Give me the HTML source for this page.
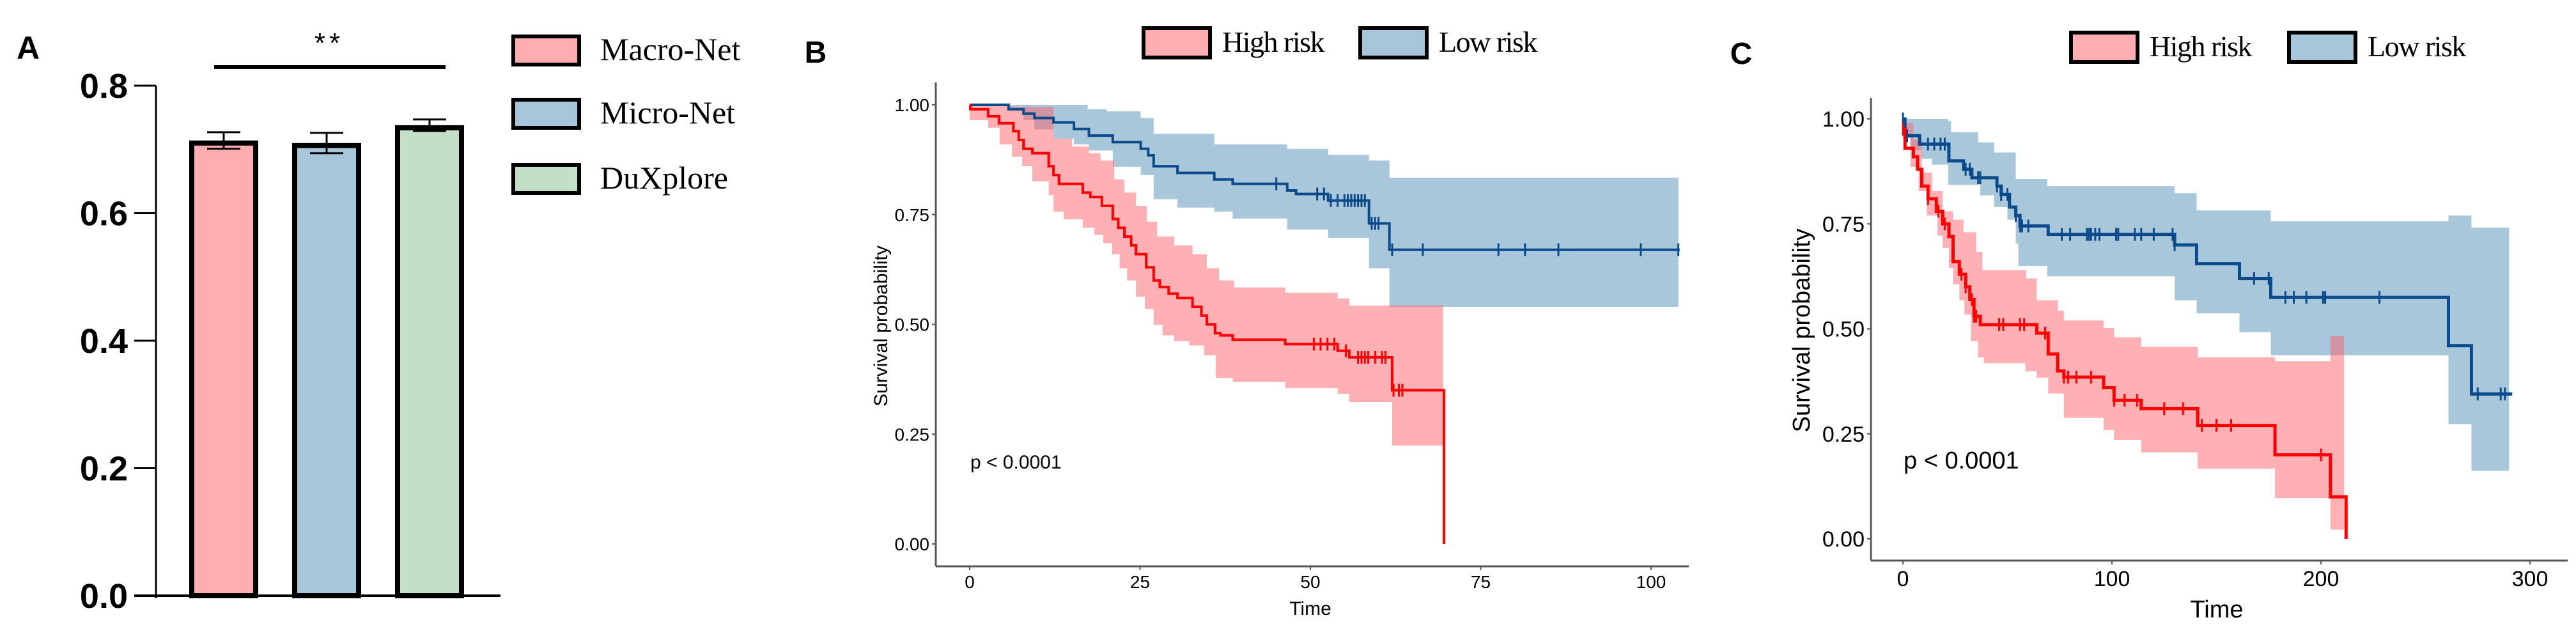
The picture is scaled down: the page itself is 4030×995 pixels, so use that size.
<!DOCTYPE html>
<html><head><meta charset="utf-8">
<style>
html,body{margin:0;padding:0;background:#fff;}
svg{display:block;}
.sans{font-family:"Liberation Sans",Arial,sans-serif;}
.nar{font-family:"Liberation Sans Narrow","Liberation Sans",sans-serif;}
.ser{font-family:"Liberation Serif","DejaVu Serif",serif;}
</style></head>
<body>
<svg id="fig" width="4030" height="995" viewBox="0 0 4030 995" xmlns="http://www.w3.org/2000/svg">
</svg>
<script>
// ---------- Panel A data ----------
const barCategories = ["Macro-Net","Micro-Net","DuXplore"];
const barValues = [0.714, 0.710, 0.738];
const barErrors = [0.013, 0.016, 0.009];
const barTicks = ["0.0","0.2","0.4","0.6","0.8"];
const barTickValues = [0,0.2,0.4,0.6,0.8];

// ---------- Panel B data ----------
const bHighSteps = [[0,1.0],[0.1,0.99],[2.7,0.974],[4.3,0.958],[6.4,0.94],[7.2,0.92],[7.9,0.90],[9.2,0.89],[11.6,0.86],[12.3,0.84],[13.1,0.82],[16.6,0.80],[17.7,0.79],[19.4,0.77],[21,0.74],[21.8,0.72],[22.7,0.70],[23.7,0.68],[24.4,0.66],[25.9,0.63],[27,0.60],[27.9,0.585],[29.2,0.57],[30.5,0.56],[32.7,0.54],[34,0.52],[34.8,0.50],[36,0.48],[36.8,0.475],[38.6,0.465],[46.3,0.455],[54,0.44],[55.7,0.425],[62,0.35],[69.6,0.0]];
const bHighEnd = 69.6;
const bHighUpper = [[0,1.0],[6,0.995],[12.3,0.923],[15,0.905],[17.5,0.89],[19.2,0.873],[21.2,0.83],[22.7,0.80],[24.4,0.77],[26,0.734],[27.5,0.70],[30,0.68],[32.7,0.66],[34.8,0.628],[36.6,0.60],[38.8,0.584],[46.3,0.572],[54,0.559],[55.7,0.543]];
const bHighLower = [[0,0.965],[2.7,0.948],[4.4,0.91],[6.2,0.882],[7.7,0.86],[9.2,0.826],[11.6,0.794],[12.3,0.757],[13.8,0.739],[16.6,0.72],[18.3,0.704],[19.6,0.685],[20.9,0.66],[22,0.628],[23.1,0.60],[24.4,0.563],[25.7,0.535],[27,0.499],[28.3,0.475],[30,0.462],[32.2,0.452],[34.4,0.43],[36.1,0.378],[38.6,0.369],[46.3,0.355],[54,0.342],[55.7,0.323],[62,0.224]];
const bHighBandEnd = 69.5;
const bHighCensor = [50.5,51.5,52.5,53.5,55.2,57,57.5,58,58.5,59.5,60.5,61,62.2,63,63.5];
const bLowSteps = [[0,1.0],[5.7,0.99],[7.9,0.98],[9.5,0.97],[12.3,0.96],[15.3,0.945],[17.5,0.93],[21,0.915],[25.1,0.90],[26.2,0.885],[27,0.86],[30.5,0.845],[35.9,0.83],[38.6,0.82],[46.6,0.805],[47.9,0.797],[52.6,0.782],[58.6,0.73],[61.6,0.67]];
const bLowEnd = 104.2;
const bLowUpper = [[0,1.0],[17.3,0.99],[20.1,0.985],[25.1,0.97],[27,0.934],[35.9,0.91],[46.6,0.90],[52.6,0.886],[58.6,0.873],[61.6,0.834]];
const bLowLower = [[0,1.0],[5.7,0.99],[7.9,0.965],[9.5,0.944],[12.3,0.923],[15.3,0.91],[17.5,0.896],[21,0.859],[25.1,0.84],[27,0.785],[30.5,0.766],[35.9,0.757],[38.6,0.741],[46.6,0.716],[52.6,0.697],[58.6,0.628],[61.6,0.54]];
const bLowBandEnd = 104;
const bLowCensor = [45,51,52,53,54,55,55.5,56,56.5,57,57.5,58,59,59.5,60,62,66.5,77.6,81.5,86.4,98.5,104];
const bXTicks = [0,25,50,75,100];
const bYTicks = [0,0.25,0.5,0.75,1.0];
const bYLabels = ["0.00","0.25","0.50","0.75","1.00"];

// ---------- Panel C data ----------
const cHighSteps = [[0,0.975],[1,0.93],[5,0.91],[7,0.88],[9,0.84],[12,0.81],[16,0.78],[19,0.75],[22,0.72],[24,0.66],[27,0.63],[30,0.60],[32,0.57],[34,0.53],[37,0.51],[64,0.49],[69.5,0.44],[74,0.40],[77,0.385],[96,0.36],[101,0.33],[114,0.31],[141,0.27],[178,0.20],[204.5,0.10],[212,0.0]];
const cHighEnd = 212;
const cHighUpper = [[0,0.99],[5,0.95],[9,0.872],[14,0.828],[19,0.78],[24,0.76],[29,0.73],[35,0.683],[38,0.64],[59,0.62],[64,0.568],[74,0.543],[77,0.52],[96,0.502],[101,0.48],[114,0.457],[141,0.432],[178,0.423],[204.5,0.483]];
const cHighLower = [[0,0.954],[3.6,0.886],[7.5,0.828],[11.4,0.77],[16.5,0.722],[19,0.693],[22,0.645],[24,0.606],[27,0.568],[29.4,0.534],[32.5,0.471],[35.9,0.432],[38.7,0.418],[58.6,0.399],[64,0.384],[69.5,0.346],[77,0.288],[96,0.259],[101,0.236],[114,0.206],[141,0.167],[178,0.097],[204.5,0.022]];
const cHighBandEnd = 211;
const cHighCensor = [0,12,17,20,28,30,33,34,35,46,48,56,58,68,77,79,83,90,101,106,112,125,134,143,150,157,200];
const cLowSteps = [[0,1.0],[1,0.96],[8,0.94],[22,0.90],[29,0.88],[33,0.86],[45,0.84],[47,0.82],[51,0.79],[54,0.77],[56,0.745],[69.5,0.725],[130,0.70],[140.5,0.655],[161,0.62],[176,0.575],[261,0.46],[272,0.345]];
const cLowEnd = 291.5;
const cLowUpper = [[0,1.0],[21.7,0.995],[23,0.968],[36,0.944],[43.6,0.92],[54,0.857],[69,0.84],[130,0.823],[140.5,0.782],[176,0.756],[261,0.77],[272,0.741]];
const cLowLower = [[0,0.963],[3.6,0.925],[8.8,0.905],[13.9,0.891],[21.7,0.843],[37,0.818],[43.6,0.79],[50,0.76],[54,0.703],[55.2,0.65],[69,0.625],[130,0.568],[140.5,0.537],[161,0.492],[176,0.437],[261,0.273],[272,0.162]];
const cLowBandEnd = 290;
const cLowCensor = [0,2,12,15,18,20,30,32,36,37,45,47,50,54,56,57,60,76,80,88,89,90,92,94,102,103,111,114,120,129,130,168,175,183,187,193,201,202,228,275,286,288];
const cXTicks = [0,100,200,300];
const cYTicks = [0,0.25,0.5,0.75,1.0];
const cYLabels = ["0.00","0.25","0.50","0.75","1.00"];

const NS = "http://www.w3.org/2000/svg";
const fig = document.getElementById("fig");
function mk(tag, attrs, parent, text){
  const e = document.createElementNS(NS, tag);
  for (const k in attrs) e.setAttribute(k, attrs[k]);
  if (text !== undefined) e.textContent = text;
  (parent||fig).appendChild(e);
  return e;
}

// ================= Panel A =================
(function(){
  const g = mk("g", {});
  
  
  const y0 = 932, y1 = 134, v1 = 0.8;
  const ys = v => y0 - (v / v1) * (y0 - y1);
  const xAxisX = 244;
  const lbl = mk("text", {x:44, y:92, "font-size":50, "font-weight":"bold", "text-anchor":"middle", class:"sans"}, g, "A");
  
  
  const ya = mk("line", {x1:xAxisX, y1:ys(v1), x2:xAxisX, y2:y0+4, stroke:"#000", "stroke-width":3}, g);
  
  
  const xa = mk("line", {x1:210, y1:y0, x2:783, y2:y0, stroke:"#000", "stroke-width":4}, g);
  
  
  barTickValues.forEach((v,i)=>{
    const t = mk("line", {x1:210, y1:ys(v), x2:xAxisX, y2:ys(v), stroke:"#000", "stroke-width":3}, g);
    
    
    const tl = mk("text", {x:200, y:ys(v)+19, "font-size":54, "font-weight":"bold", "text-anchor":"end", class:"nar"}, g, barTicks[i]);
    
    
  });
  const fills = ["#ffadb1","#a8c6da","#c3dfc6"];
  const bw = 108, x0 = 296, step = 161;
  barCategories.forEach((c,i)=>{
    const x = x0 + i*step;
    const r = mk("rect", {x:x+4, y:ys(barValues[i])+4, width:bw-8, height:y0-ys(barValues[i])-4, fill:fills[i], stroke:"#000", "stroke-width":8}, g);
    
    
    const cx = x + bw/2;
    const e = barErrors[i];
    const eb = mk("path", {d:`M${cx-26},${ys(barValues[i]+e)} H${cx+26} M${cx},${ys(barValues[i]+e)} V${ys(barValues[i]-e)} M${cx-26},${ys(barValues[i]-e)} H${cx+26}`, stroke:"#000", "stroke-width":3, fill:"none"}, g);
    
    
  });
  const sig = mk("line", {x1:335, y1:105, x2:697, y2:105, stroke:"#000", "stroke-width":6}, g);
  
  
  const st = mk("text", {x:515, y:82, "font-size":44, "text-anchor":"middle", class:"sans", "letter-spacing":"6"}, g, "**");
  
  
  const ly = [54,153,255];
  barCategories.forEach((c,i)=>{
    const b = mk("rect", {x:803, y:ly[i]+3, width:103, height:44, fill:fills[i], stroke:"#000", "stroke-width":6}, g);
    
    
    const t = mk("text", {x:939, y:ly[i]+40, "font-size":50, class:"ser"}, g, c);
    
    
  });
})();

// ================= KM helper =================
function stepPath(steps, end, xs, ys){
  let d = `M${xs(steps[0][0])},${ys(steps[0][1])}`;
  for (let i=1;i<steps.length;i++){
    d += ` H${xs(steps[i][0])} V${ys(steps[i][1])}`;
  }
  d += ` H${xs(end)}`;
  return d;
}
function bandPath(up, lo, end, xs, ys){
  let d = `M${xs(up[0][0])},${ys(up[0][1])}`;
  for (let i=1;i<up.length;i++) d += ` H${xs(up[i][0])} V${ys(up[i][1])}`;
  d += ` H${xs(end)} V${ys(lo[lo.length-1][1])}`;
  for (let i=lo.length-1;i>=1;i--) d += ` H${xs(lo[i][0])} V${ys(lo[i-1][1])}`;
  d += ` H${xs(lo[0][0])} Z`;
  return d;
}
function sAt(steps, t){
  let s = steps[0][1];
  for (const p of steps) if (p[0] <= t) s = p[1];
  return s;
}
function kmPanel(o){
  const g = mk("g", {});
  
  
  const xs = t => o.x0px + t * o.pxPerUnit;
  const ys = s => o.y0px - s * (o.y0px - o.y1px);
  const L = mk("text", {x:o.labX, y:o.labY, "font-size":48, "font-weight":"bold", "text-anchor":"middle", class:"sans"}, g, o.label);
  
  
  // legend
  const lg = [["High risk","#ffadb1",o.leg[0]],["Low risk","#a8c6da",o.leg[1]]];
  lg.forEach(l=>{
    const r = mk("rect", {x:l[2]+3, y:o.legY+3, width:o.legW-6, height:o.legH-6, fill:l[1], stroke:"#000", "stroke-width":6}, g);
    
    
    const t = mk("text", {x:l[2]+o.legW+16, y:o.legY+o.legH-12, "font-size":o.legFont, class:"ser", "letter-spacing":"-1.5"}, g, l[0]);
    
    
  });
  // bands
  const lb = mk("path", {d:bandPath(o.lowUp, o.lowLo, o.lowBandEnd, xs, ys), fill:"#5b93b9", "fill-opacity":0.52}, g);
  
  
  const hb = mk("path", {d:bandPath(o.highUp, o.highLo, o.highBandEnd, xs, ys), fill:"#ff5a64", "fill-opacity":0.48}, g);
  
  
  // lines
  const ll = mk("path", {d:stepPath(o.lowSteps, o.lowEnd, xs, ys), fill:"none", stroke:"#0b4a8b", "stroke-width":o.lw}, g);
  
  
  const hl = mk("path", {d:stepPath(o.highSteps, o.highEnd, xs, ys), fill:"none", stroke:"#ff0000", "stroke-width":o.lw}, g);
  
  
  // censor marks
  o.lowCensor.forEach(t=>{
    const s = sAt(o.lowSteps, t);
    const c = mk("line", {x1:xs(t), x2:xs(t), y1:ys(s)-10, y2:ys(s)+10, stroke:"#0b4a8b", "stroke-width":3}, g);
    
    
  });
  o.highCensor.forEach(t=>{
    const s = sAt(o.highSteps, t);
    const c = mk("line", {x1:xs(t), x2:xs(t), y1:ys(s)-10, y2:ys(s)+10, stroke:"#ff0000", "stroke-width":3}, g);
    
    
  });
  // axes
  const ya = mk("line", {x1:o.axX, y1:o.axTop, x2:o.axX, y2:o.axY, stroke:"#555", "stroke-width":3}, g);
  
  
  const xa = mk("line", {x1:o.axX, y1:o.axY, x2:o.axRight, y2:o.axY, stroke:"#555", "stroke-width":3}, g);
  
  
  o.xTicks.forEach(v=>{
    const t = mk("line", {x1:xs(v), x2:xs(v), y1:o.axY, y2:o.axY+6, stroke:"#555", "stroke-width":2}, g);
    
    
    const tl = mk("text", {x:xs(v), y:o.axY+o.tickFont+6, "font-size":o.tickFont, "text-anchor":"middle", class:"nar"}, g, String(v));
    
    
  });
  o.yTicks.forEach((v,i)=>{
    const t = mk("line", {x1:o.axX-6, x2:o.axX, y1:ys(v), y2:ys(v), stroke:"#555", "stroke-width":2}, g);
    
    
    const tl = mk("text", {x:o.axX-10, y:ys(v)+o.tickFont*0.36, "font-size":o.tickFont, "text-anchor":"end", class:"nar"}, g, o.yLabels[i]);
    
    
  });
  const xt = mk("text", {x:o.timeX, y:o.timeY, "font-size":o.titleFont, "text-anchor":"middle", class:"nar"}, g, "Time");
  
  
  const yt = mk("text", {x:0, y:0, "font-size":o.titleFont, "text-anchor":"middle", class:"sans", transform:`translate(${o.ytX},${o.ytY}) rotate(-90)`}, g, "Survival probability");
  
  
  const p = mk("text", {x:o.pX, y:o.pY, "font-size":o.pFont, class:"nar"}, g, "p < 0.0001");
  
  
}

kmPanel({name:"panel-b-km-plot", label:"B", labX:1276, labY:98,
  leg:[1786,2125], legY:41, legW:110, legH:52, legFont:46,
  x0px:1517, pxPerUnit:10.66, y0px:851, y1px:164,
  axX:1464, axTop:129, axY:886, axRight:2642,
  highSteps:bHighSteps, highEnd:bHighEnd, highUp:bHighUpper, highLo:bHighLower, highBandEnd:bHighBandEnd, highCensor:bHighCensor,
  lowSteps:bLowSteps, lowEnd:bLowEnd, lowUp:bLowUpper, lowLo:bLowLower, lowBandEnd:bLowBandEnd, lowCensor:bLowCensor,
  xTicks:bXTicks, yTicks:bYTicks, yLabels:bYLabels, tickFont:28, titleFont:30,
  timeX:2050, timeY:962, ytX:1388, ytY:510, pX:1518, pY:733, pFont:30, lw:4});

kmPanel({name:"panel-c-km-plot", label:"C", labX:2724, labY:100,
  leg:[3237,3578], legY:48, legW:110, legH:52, legFont:46,
  x0px:2977, pxPerUnit:3.27, y0px:843, y1px:186,
  axX:2927, axTop:153, axY:877, axRight:4017,
  highSteps:cHighSteps, highEnd:cHighEnd, highUp:cHighUpper, highLo:cHighLower, highBandEnd:cHighBandEnd, highCensor:cHighCensor,
  lowSteps:cLowSteps, lowEnd:cLowEnd, lowUp:cLowUpper, lowLo:cLowLower, lowBandEnd:cLowBandEnd, lowCensor:cLowCensor,
  xTicks:cXTicks, yTicks:cYTicks, yLabels:cYLabels, tickFont:34, titleFont:38,
  timeX:3468, timeY:966, ytX:2831, ytY:517, pX:2978, pY:733, pFont:38, lw:5});
</script>
</body></html>
